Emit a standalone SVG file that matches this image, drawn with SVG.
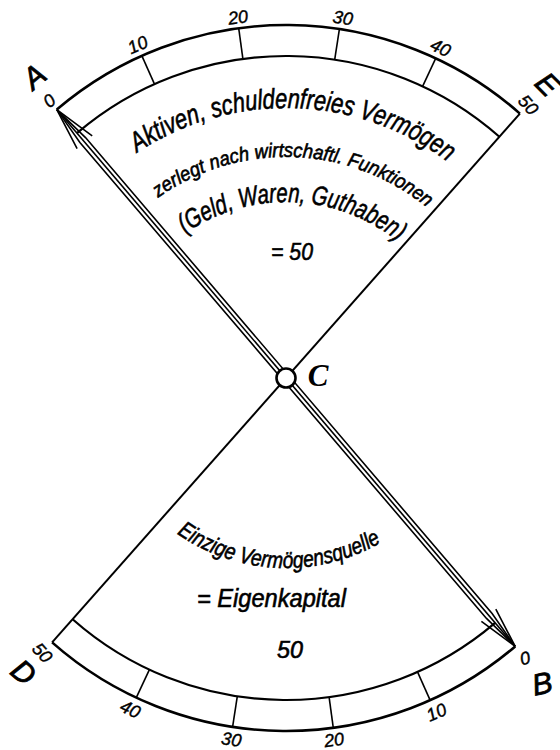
<svg xmlns="http://www.w3.org/2000/svg" width="560" height="750" viewBox="0 0 560 750">
<style>
.bg{fill:#fff}
.outer{fill:none;stroke:#000;stroke-width:2.6}
.inner{fill:none;stroke:#000;stroke-width:2.2}
.tick{stroke:#000;stroke-width:1.6}
.ln{fill:none;stroke:#000;stroke-width:2;stroke-linejoin:miter}
.tri{fill:none;stroke:#000;stroke-width:1.6}
.hand{font-family:"Liberation Sans",Arial,sans-serif;font-style:italic;fill:#000;stroke:#000;stroke-width:0.6}
.num{font-family:"Liberation Sans",Arial,sans-serif;font-style:italic;font-size:18px;fill:#000;text-anchor:middle;stroke:#000;stroke-width:0.4}
.let{font-family:"Liberation Sans",Arial,sans-serif;font-style:italic;font-size:30px;fill:#000;text-anchor:middle;stroke:#000;stroke-width:0.8}
</style>
<defs>
<path id="p1" d="M137.0,152.8 A270,270 0 0 1 448.1,162.1"/>
<path id="p2" d="M158,197.8 A221,221 0 0 1 427,207.7"/>
<path id="p3" d="M185.0,233.5 A178,178 0 0 1 398.0,241.7"/>
<path id="p4" d="M176.8,533.5 A190,190 0 0 0 382.2,541.9"/>
</defs>
<rect class="bg" x="0" y="0" width="560" height="750"/>

<g id="scale-top">
<path class="outer" d="M56.8,109.6 A353,353 0 0 1 519.9,113.6"/>
<path class="inner" d="M76.9,133.2 A322,322 0 0 1 499.4,136.8"/>
<line class="tick" x1="154.5" y1="84.1" x2="141.9" y2="55.8"/>
<line class="tick" x1="242.9" y1="58.9" x2="238.7" y2="28.2"/>
<line class="tick" x1="334.7" y1="59.7" x2="339.4" y2="29.1"/>
<line class="tick" x1="422.6" y1="86.4" x2="435.7" y2="58.3"/>
<text class="num" transform="translate(49,100.5) rotate(-40.5)" dy="0.36em">0</text>
<text class="num" transform="translate(137.5,44.5) rotate(-24.1)" dy="0.36em">10</text>
<text class="num" transform="translate(238,17) rotate(-7.7)" dy="0.36em">20</text>
<text class="num" transform="translate(343,17.5) rotate(8.7)" dy="0.36em">30</text>
<text class="num" transform="translate(440.8,47.5) rotate(25.1)" dy="0.36em">40</text>
<text class="num" transform="translate(528.5,104.6) rotate(48)" dy="0.36em">50</text>
</g>

<g id="scale-bottom">
<path class="outer" d="M52.1,642.4 A353,353 0 0 0 515.2,646.4"/>
<path class="inner" d="M72.6,619.2 A322,322 0 0 0 495.1,622.8"/>
<line class="tick" x1="417.5" y1="671.9" x2="430.1" y2="700.2"/>
<line class="tick" x1="329.1" y1="697.1" x2="333.3" y2="727.8"/>
<line class="tick" x1="237.3" y1="696.3" x2="232.6" y2="726.9"/>
<line class="tick" x1="149.4" y1="669.6" x2="136.3" y2="697.7"/>
<text class="num" transform="translate(525,658) rotate(-15)" dy="0.36em">0</text>
<text class="num" transform="translate(436.3,712) rotate(-24.1)" dy="0.36em">10</text>
<text class="num" transform="translate(334,739.5) rotate(-7.7)" dy="0.36em">20</text>
<text class="num" transform="translate(231.5,739) rotate(8.7)" dy="0.36em">30</text>
<text class="num" transform="translate(130.5,709) rotate(25.1)" dy="0.36em">40</text>
<text class="num" transform="translate(42.5,652.5) rotate(48)" dy="0.36em">50</text>
</g>

<g id="connectors">
<line class="ln" x1="519.9" y1="113.6" x2="52.1" y2="642.4"/>
<polyline class="tri" points="56.8,109.6 85.5,137.6 492.1,613.6 515.2,646.4"/>
<polyline class="tri" points="56.8,109.6 515.2,646.4"/>
<polyline class="tri" points="56.8,109.6 79.9,142.4 486.5,618.4 515.2,646.4"/>
<polyline class="tri" points="77.1,148.6 56.8,109.6 92.2,135.8"/>
<polyline class="tri" points="481.4,621.4 515.2,646.4 495.8,609.1"/>
</g>

<g id="C">
<circle cx="286" cy="378" r="9.5" fill="#fff" stroke="#000" stroke-width="2.6"/>
<text x="318" y="386" style="font-family:'Liberation Serif','DejaVu Serif',serif;font-style:italic;font-weight:bold;font-size:31px;text-anchor:middle">C</text>
</g>

<g id="labels">
<text class="let" transform="translate(34,76) rotate(-40)" dy="0.36em">A</text>
<text class="let" transform="translate(548,84) rotate(45)" dy="0.36em">E</text>
<text class="let" transform="translate(24,672) rotate(40)" dy="0.36em">D</text>
<text class="let" transform="translate(542,683) rotate(-12)" dy="0.36em">B</text>
</g>

<g id="text-top">
<text class="hand" font-size="28"><textPath href="#p1" textLength="331" lengthAdjust="spacingAndGlyphs">Aktiven, schuldenfreies Vermögen</textPath></text>
<text class="hand" font-size="20"><textPath href="#p2" textLength="289" lengthAdjust="spacingAndGlyphs">zerlegt nach wirtschaftl. Funktionen</textPath></text>
<text class="hand" font-size="27"><textPath href="#p3" textLength="228" lengthAdjust="spacingAndGlyphs">(Geld, Waren, Guthaben)</textPath></text>
<text class="hand" font-size="24" x="292" y="260" text-anchor="middle" textLength="42" lengthAdjust="spacingAndGlyphs">= 50</text>
</g>

<g id="text-bottom">
<text class="hand" font-size="23"><textPath href="#p4" textLength="216" lengthAdjust="spacingAndGlyphs">Einzige Vermögensquelle</textPath></text>
<text class="hand" font-size="25" x="197" y="607" textLength="149" lengthAdjust="spacingAndGlyphs">= Eigenkapital</text>
<text class="hand" font-size="23" x="290" y="658" text-anchor="middle" textLength="26" lengthAdjust="spacingAndGlyphs">50</text>
</g>
</svg>
